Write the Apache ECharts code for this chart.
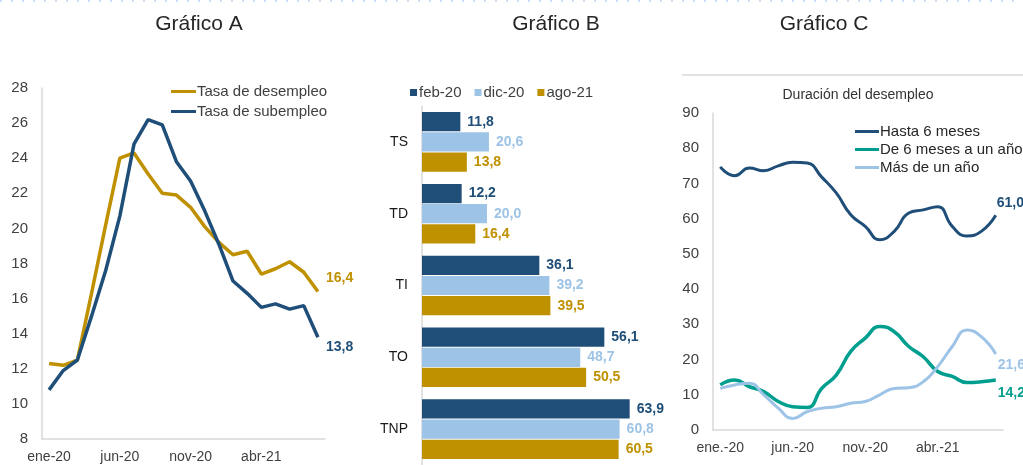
<!DOCTYPE html>
<html>
<head>
<meta charset="utf-8">
<script src="https://cdn.jsdelivr.net/npm/echarts@6/dist/echarts.min.js"></script>
<style>
  html, body { margin: 0; padding: 0; background: #fff; }
  #main { width: 1023px; height: 465px; }
</style>
</head>
<body>
<div id="main"></div>
<script>
// Gráfico A
var mesesA = ['ene-20','feb-20','mar-20','abr-20','may-20','jun-20','jul-20','ago-20','sep-20','oct-20',
              'nov-20','dic-20','ene-21','feb-21','mar-21','abr-21','may-21','jun-21','jul-21','ago-21'];
var desempleo = [12.3,12.2,12.5,16.3,20.2,24.0,24.3,23.1,22.0,21.9,21.2,20.1,19.2,18.5,18.7,17.4,17.7,18.1,17.5,16.4];
var subempleo = [10.8,11.9,12.5,15.0,17.6,20.7,24.8,26.2,25.9,23.8,22.7,21.0,19.1,17.0,16.3,15.5,15.7,15.4,15.6,13.8];

// Gráfico B
var tasas = ['TS','TD','TI','TO','TNP'];
var feb20 = [11.8,12.2,36.1,56.1,63.9];
var dic20 = [20.6,20.0,39.2,48.7,60.8];
var ago21 = [13.8,16.4,39.5,50.5,60.5];

// Gráfico C
var mesesC = ['ene.-20','feb.-20','mar.-20','abr.-20','may.-20','jun.-20','jul.-20','ago.-20','sep.-20','oct.-20',
              'nov.-20','dic.-20','ene.-21','feb.-21','mar.-21','abr.-21','may.-21','jun.-21','jul.-21','ago.-21'];
var hasta6 = [74.7,72.2,74.4,73.6,75.0,76.0,75.8,71.8,67.3,61.1,57.8,54.0,56.4,61.6,62.5,63.4,57.8,55.1,56.4,61.0];
var de6a1 = [12.8,14.2,12.3,10.9,8.1,6.6,6.4,11.8,15.6,22.3,26.1,29.4,27.9,23.7,20.8,16.6,15.2,13.5,13.7,14.2];
var mas1 = [11.8,12.8,13.3,10.0,6.2,3.3,5.2,6.2,6.6,7.6,8.1,10.0,11.8,12.0,13.7,18.0,23.7,28.4,26.5,21.6];

var AZUL = '#1f4e79', CELESTE = '#9dc3e6', ORO = '#bf9000', VERDE = '#009e8f';
var FONT = "'Liberation Sans', Arial, sans-serif";
var GRIS = '#404040', LINEA = '#d9d9d9';

function coma(v) { return v.toFixed(1).replace('.', ','); }

var chart = echarts.init(document.getElementById('main'));

function barLabel(color) {
  return {
    show: true, position: 'right', distance: 7,
    color: color, fontWeight: 'bold', fontSize: 14, fontFamily: FONT,
    formatter: function (p) { return coma(p.value); }
  };
}

function endLbl(color, dx, dy) {
  return { show: true, offset: [dx, dy], color: color, fontWeight: 'bold', fontSize: 14, fontFamily: FONT,
    formatter: function (p) { return coma(p.value); } };
}

var option = {
  animation: false,
  textStyle: { fontFamily: FONT },
  title: [
    { text: 'Gráfico A', left: 194, top: 9, textAlign: 'center',
      textStyle: { fontSize: 21, fontWeight: 'normal', color: '#262626', fontFamily: FONT } },
    { text: 'Gráfico B', left: 551, top: 9, textAlign: 'center',
      textStyle: { fontSize: 21, fontWeight: 'normal', color: '#262626', fontFamily: FONT } },
    { text: 'Gráfico C', left: 819, top: 9, textAlign: 'center',
      textStyle: { fontSize: 21, fontWeight: 'normal', color: '#262626', fontFamily: FONT } },
    { text: 'Duración del desempleo', left: 853, top: 83, textAlign: 'center',
      textStyle: { fontSize: 14, fontWeight: 'normal', color: '#333', fontFamily: FONT } }
  ],
  legend: [
    { data: ['Tasa de desempleo', 'Tasa de subempleo'], orient: 'vertical', left: 166, top: 79,
      icon: 'rect', itemWidth: 25, itemHeight: 3, itemGap: 5,
      textStyle: { fontSize: 15, color: GRIS, fontFamily: FONT, padding: [0, 0, 0, -4] } },
    { data: ['feb-20', 'dic-20', 'ago-21'], left: 405, top: 80,
      icon: 'rect', itemWidth: 7, itemHeight: 7, itemGap: 13,
      textStyle: { fontSize: 15, color: GRIS, fontFamily: FONT, padding: [0, 0, 0, -3] } },
    { data: ['Hasta 6 meses', 'De 6 meses a un año', 'Más de un año'], orient: 'vertical', left: 850, top: 119,
      icon: 'rect', itemWidth: 24, itemHeight: 3, itemGap: 3,
      textStyle: { fontSize: 15, color: '#262626', fontFamily: FONT, padding: [0, 0, 0, -4] } }
  ],
  graphic: [
    { type: 'line', shape: { x1: 0, y1: 1, x2: 1023, y2: 1 },
      style: { stroke: '#c9dcf2', lineWidth: 2, lineDash: [2, 9] } },
    { type: 'line', shape: { x1: 682, y1: 75, x2: 1023, y2: 75 },
      style: { stroke: LINEA, lineWidth: 1.5 } }
  ],
  grid: [
    { left: 42, top: 88, width: 283, height: 351, outerBoundsMode: 'none' },
    { left: 422, top: 106, width: 227.5, height: 359, outerBoundsMode: 'none' },
    { left: 713, top: 113, width: 290, height: 317, outerBoundsMode: 'none' }
  ],
  xAxis: [
    { type: 'category', gridIndex: 0, data: mesesA, boundaryGap: true,
      axisLine: { lineStyle: { color: LINEA, width: 1.5 } }, axisTick: { show: false },
      axisLabel: { interval: 4, margin: 11, fontSize: 14, color: GRIS, fontFamily: FONT } },
    { type: 'value', gridIndex: 1, min: 0, max: 70, show: false },
    { type: 'category', gridIndex: 2, data: mesesC, boundaryGap: true,
      axisLine: { lineStyle: { color: LINEA, width: 1.5 } }, axisTick: { show: false },
      axisLabel: { interval: 4, margin: 11, fontSize: 14, color: GRIS, fontFamily: FONT } }
  ],
  yAxis: [
    { type: 'value', gridIndex: 0, min: 8, max: 28, interval: 2,
      axisLine: { show: true, lineStyle: { color: LINEA, width: 1.5 } }, axisTick: { show: false },
      splitLine: { show: false },
      axisLabel: { margin: 14, fontSize: 15, color: GRIS, fontFamily: FONT } },
    { type: 'category', gridIndex: 1, data: tasas, inverse: true,
      axisLine: { show: true, lineStyle: { color: LINEA, width: 1.5 } }, axisTick: { show: false },
      axisLabel: { margin: 14, fontSize: 14, color: '#1a1a1a', fontFamily: FONT } },
    { type: 'value', gridIndex: 2, min: 0, max: 90, interval: 10,
      axisLine: { show: true, lineStyle: { color: LINEA, width: 1.5 } }, axisTick: { show: false },
      splitLine: { show: false },
      axisLabel: { margin: 14, fontSize: 15, color: GRIS, fontFamily: FONT } }
  ],
  series: [
    { name: 'Tasa de desempleo', type: 'line', xAxisIndex: 0, yAxisIndex: 0, data: desempleo,
      symbol: 'none', color: ORO, lineStyle: { width: 3.5, color: ORO },
      endLabel: endLbl(ORO, 0, -13) },
    { name: 'Tasa de subempleo', type: 'line', xAxisIndex: 0, yAxisIndex: 0, data: subempleo,
      symbol: 'none', color: AZUL, lineStyle: { width: 3.5, color: AZUL },
      endLabel: endLbl(AZUL, 0, 10) },

    { name: 'feb-20', type: 'bar', xAxisIndex: 1, yAxisIndex: 1, data: feb20, color: AZUL,
      barCategoryGap: '17%', barGap: '5%', label: barLabel(AZUL) },
    { name: 'dic-20', type: 'bar', xAxisIndex: 1, yAxisIndex: 1, data: dic20, color: CELESTE,
      barCategoryGap: '17%', barGap: '5%', label: barLabel(CELESTE) },
    { name: 'ago-21', type: 'bar', xAxisIndex: 1, yAxisIndex: 1, data: ago21, color: ORO,
      barCategoryGap: '17%', barGap: '5%', label: barLabel(ORO) },

    { name: 'Hasta 6 meses', type: 'line', xAxisIndex: 2, yAxisIndex: 2, data: hasta6, smooth: 0.5,
      symbol: 'none', color: AZUL, lineStyle: { width: 3, color: AZUL },
      endLabel: endLbl(AZUL, -7, -12) },
    { name: 'De 6 meses a un año', type: 'line', xAxisIndex: 2, yAxisIndex: 2, data: de6a1, smooth: 0.5,
      symbol: 'none', color: VERDE, lineStyle: { width: 3.5, color: VERDE },
      endLabel: endLbl(VERDE, -6, 13) },
    { name: 'Más de un año', type: 'line', xAxisIndex: 2, yAxisIndex: 2, data: mas1, smooth: 0.5,
      symbol: 'none', color: CELESTE, lineStyle: { width: 3, color: CELESTE },
      endLabel: endLbl(CELESTE, -6, 11) }
  ]
};

chart.setOption(option);
</script>
</body>
</html>
